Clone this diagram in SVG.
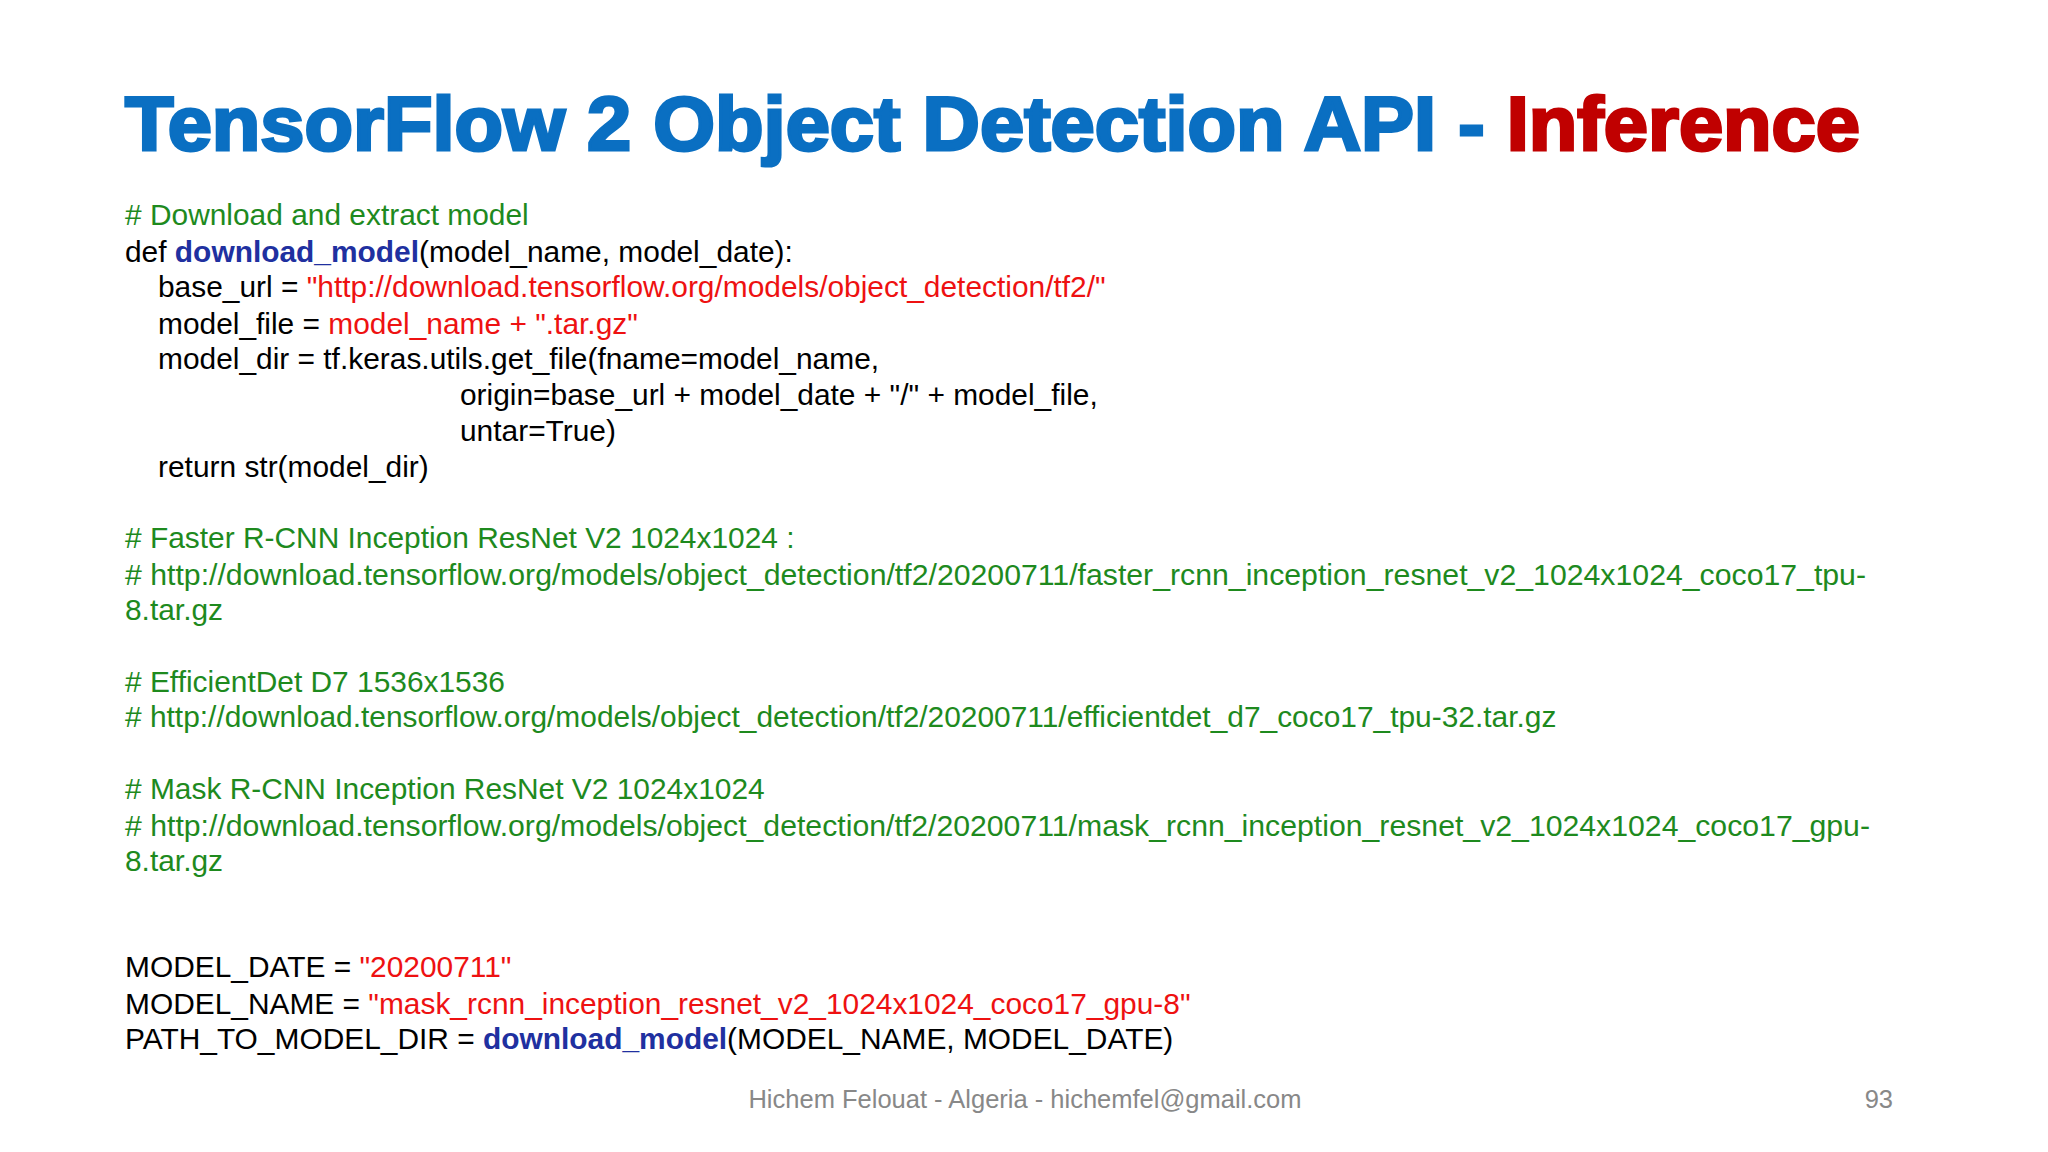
<svg xmlns="http://www.w3.org/2000/svg" width="2048" height="1152" viewBox="0 0 2048 1152">
<style>
.t{font-family:"Liberation Sans",Arial,sans-serif;font-size:29.9px;fill:#000}
.c{fill:#1e8a1e}.s{fill:#ee1111}.f{fill:#2030a0;font-weight:bold}
</style>
<rect width="2048" height="1152" fill="#fff"/>
<g id="title"><text x="125" y="150" font-family="Liberation Sans,Arial,sans-serif" font-weight="bold" font-size="76" stroke-width="3" textLength="1735" lengthAdjust="spacingAndGlyphs"><tspan fill="#0a6fc2" stroke="#0a6fc2">TensorFlow 2 Object Detection API - </tspan><tspan fill="#c00000" stroke="#c00000">Inference</tspan></text></g>
<g id="code" class="t">
<text x="125" y="225" class="t c">#  Download and extract model</text>
<text x="125" y="262" class="t">def <tspan class="f">download_model</tspan>(model_name, model_date):</text>
<text x="158" y="297" class="t">base_url = <tspan class="s">"http://download.tensorflow.org/models/object_detection/tf2/"</tspan></text>
<text x="158" y="334" class="t">model_file = <tspan class="s">model_name + ".tar.gz"</tspan></text>
<text x="158" y="369" class="t">model_dir = tf.keras.utils.get_file(fname=model_name,</text>
<text x="460" y="405" class="t">origin=base_url + model_date + "/" + model_file,</text>
<text x="460" y="441" class="t">untar=True)</text>
<text x="158" y="477" class="t">return str(model_dir)</text>
<text x="125" y="548" class="t c"># Faster R-CNN Inception ResNet V2 1024x1024 :</text>
<text x="125" y="585" class="t c" textLength="1741" lengthAdjust="spacingAndGlyphs"># http://download.tensorflow.org/models/object_detection/tf2/20200711/faster_rcnn_inception_resnet_v2_1024x1024_coco17_tpu-</text>
<text x="125" y="620" class="t c">8.tar.gz</text>
<text x="125" y="692" class="t c"># EfficientDet D7 1536x1536</text>
<text x="125" y="727" class="t c"># http://download.tensorflow.org/models/object_detection/tf2/20200711/efficientdet_d7_coco17_tpu-32.tar.gz</text>
<text x="125" y="799" class="t c"># Mask R-CNN Inception ResNet V2 1024x1024</text>
<text x="125" y="836" class="t c" textLength="1745" lengthAdjust="spacingAndGlyphs"># http://download.tensorflow.org/models/object_detection/tf2/20200711/mask_rcnn_inception_resnet_v2_1024x1024_coco17_gpu-</text>
<text x="125" y="871" class="t c">8.tar.gz</text>
<text x="125" y="977" class="t">MODEL_DATE = <tspan class="s">"20200711"</tspan></text>
<text x="125" y="1014" class="t">MODEL_NAME = <tspan class="s">"mask_rcnn_inception_resnet_v2_1024x1024_coco17_gpu-8"</tspan></text>
<text x="125" y="1049" class="t">PATH_TO_MODEL_DIR = <tspan class="f">download_model</tspan>(MODEL_NAME, MODEL_DATE)</text>
</g>
<g id="footer" font-family="Liberation Sans,Arial,sans-serif" font-size="25.5" fill="#888">
<text x="1034" y="1118" text-anchor="middle" dx="-9" dy="-10">Hichem Felouat - Algeria - hichemfel@gmail.com</text>
<text x="1893" y="1108" text-anchor="end">93</text>
</g>
</svg>
